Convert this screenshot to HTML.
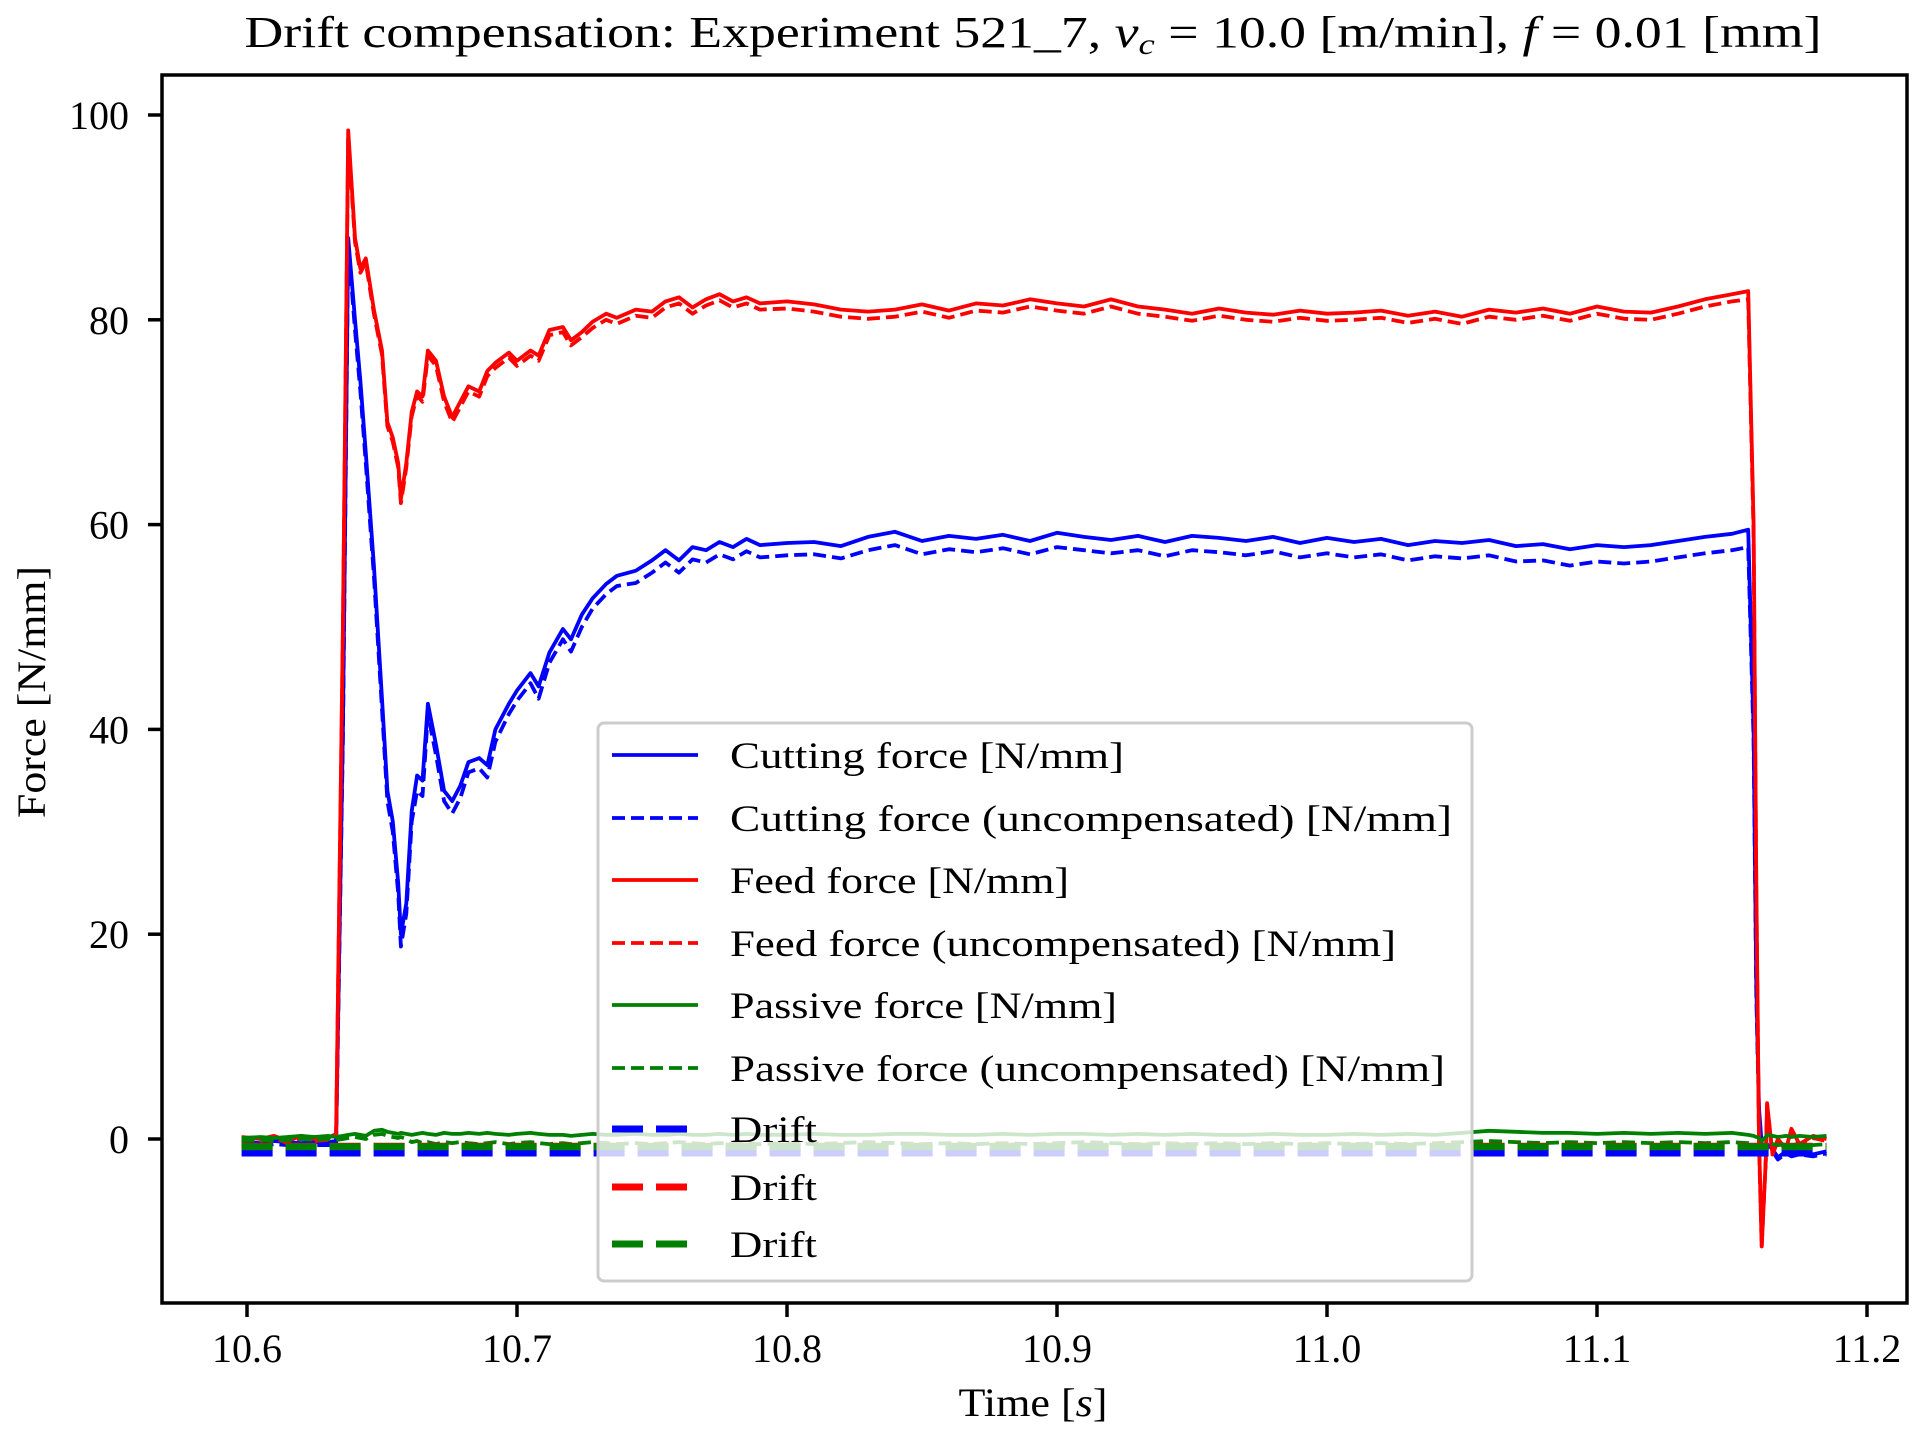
<!DOCTYPE html>
<html><head><meta charset="utf-8"><style>
html,body{margin:0;padding:0;background:#fff;}
svg{display:block;font-family:"Liberation Serif",serif;}
</style></head><body>
<svg id="chart" width="1920" height="1440" viewBox="0 0 1920 1440" xmlns="http://www.w3.org/2000/svg">
<rect width="1920" height="1440" fill="#fff"/>
<text x="1033" y="47" font-size="44" text-anchor="middle" textLength="1577" lengthAdjust="spacingAndGlyphs">Drift compensation: Experiment 521_7, <tspan font-style="italic">v</tspan><tspan font-style="italic" font-size="30" dy="7">c</tspan><tspan dy="-7"> = 10.0 [m/min], </tspan><tspan font-style="italic">f</tspan> = 0.01 [mm]</text>
<g id="plot"></g>
<g id="axes"></g>
<g id="legend"></g>
<text x="1033" y="1416" font-size="40" text-anchor="middle" textLength="149" lengthAdjust="spacingAndGlyphs">Time [<tspan font-style="italic">s</tspan>]</text>
<text x="0" y="0" font-size="40" text-anchor="middle" textLength="252" lengthAdjust="spacingAndGlyphs" transform="translate(45,692) rotate(-90)">Force [N/mm]</text>
</svg>
<script>
const times = [10.598,10.605,10.61,10.615,10.62,10.625,10.63,10.633,
10.6355,10.6375,10.640,10.642,10.644,10.647,10.650,10.652,10.654,10.656,10.657,10.659,10.661,10.663,10.665,10.667,10.670,10.673,10.676,10.679,10.682,10.686,10.689,10.692,10.697,10.700,10.705,10.708,10.712,10.717,10.720,10.724,10.728,10.733,10.737,10.744,10.750,10.755,10.760,10.765,10.770,10.775,10.780,10.785,10.790,
10.80,10.81,10.82,10.83,10.84,10.85,10.86,10.87,10.88,10.89,10.90,10.91,10.92,10.93,10.94,10.95,10.96,10.97,10.98,10.99,11.00,11.01,11.02,11.03,11.04,11.05,11.06,11.07,11.08,11.09,11.10,11.11,11.12,11.13,11.14,11.15,
11.156,11.158,11.159,11.160,11.161,11.1625,11.163,11.165,11.167,11.170,11.172,11.175,11.18,11.185];
const feedForce = [0.2,0,0.3,-0.2,0.3,0,0.1,0.5,
50,98.5,88,85,86,81,77,70,68.5,66,62.5,66,71,73,72.5,77,76,72.5,70.5,72,73.5,73,75,75.8,76.8,76,77,76.5,79,79.3,78,78.8,79.8,80.6,80.2,81,80.8,81.8,82.2,81.2,82,82.5,81.8,82.2,81.6,
81.8,81.5,81.0,80.8,81.0,81.5,80.9,81.6,81.4,82.0,81.6,81.3,82.0,81.3,81.0,80.6,81.1,80.7,80.5,80.9,80.6,80.7,80.9,80.4,80.8,80.3,81.0,80.7,81.1,80.6,81.3,80.8,80.7,81.3,82.0,82.5,
82.8,60,25,0,-10.5,-2,3.5,-1.5,0,-1,1,-0.5,0.3,0];
const feedForceRaw = [0,-0.2,0.1,-0.4,0.1,-0.2,-0.1,0.3,
49,98,87.6,84.6,85.6,80.6,76.6,69.6,68.1,65.6,62.1,65.6,70.6,72.6,72,76.5,75.5,72,70,71.5,73,72.5,74.5,75.3,76.3,75.5,76.5,76,78.5,78.8,77.5,78.3,79.2,80,79.6,80.4,80.2,81.2,81.6,80.6,81.4,81.9,81.2,81.6,81,
81.1,80.8,80.3,80.1,80.3,80.8,80.2,80.9,80.7,81.3,80.9,80.6,81.3,80.6,80.3,79.9,80.4,80.0,79.8,80.2,79.9,80.0,80.2,79.7,80.1,79.6,80.3,80.0,80.4,79.9,80.6,80.1,80.0,80.6,81.3,81.8,
82.0,59,24,-0.5,-10.5,-2,3.3,-1.5,-0.2,-1,0.8,-0.6,0.1,-0.2];
const cuttingForce = [-0.3,-0.4,-0.2,-0.3,-0.4,-0.3,-0.3,-0.2,
40,88,80,74,67,56,43,34,31,25,20,23,32,35.5,35,42.5,38.5,34,33,34.5,36.8,37.2,36.5,40,42.5,43.8,45.5,44.2,47.5,49.8,48.8,51.2,52.8,54.2,55,55.5,56.5,57.5,56.5,57.8,57.5,58.3,57.8,58.6,58.0,
58.2,58.3,57.9,58.8,59.3,58.4,58.9,58.6,59.0,58.4,59.2,58.8,58.5,58.9,58.3,58.9,58.7,58.4,58.8,58.2,58.7,58.3,58.6,58.0,58.4,58.2,58.5,57.9,58.1,57.6,58.0,57.8,58.0,58.4,58.8,59.1,
59.5,40,15,3,-0.5,-1.5,-0.5,-1,-1.8,-1.2,-1.5,-1.3,-1.5,-1.2];
const cuttingForceRaw = [-0.6,-0.7,-0.5,-0.6,-0.7,-0.6,-0.6,-0.5,
39,87.5,79,73,66,55,42,33,30,24,18.8,22,31,34,33.5,41.5,37.5,33,31.8,33.3,35.8,36.2,35.3,38.8,41.5,42.8,44.5,43,46.5,48.8,47.6,50,51.8,53.2,54,54.3,55.3,56.3,55.3,56.6,56.3,57.1,56.6,57.4,56.8,
57,57.1,56.7,57.5,58,57.1,57.6,57.3,57.7,57.1,57.8,57.5,57.2,57.5,56.9,57.5,57.3,57.0,57.4,56.8,57.2,56.8,57.1,56.5,56.9,56.7,57.0,56.4,56.5,56.0,56.4,56.2,56.4,56.8,57.2,57.5,
57.8,39,14,2.5,-0.8,-1.7,-0.8,-1.2,-2,-1.4,-1.7,-1.5,-1.7,-1.4];
const passiveForce = [0.1,0.2,0.1,0.2,0.3,0.2,0.3,0.2,
0.3,0.4,0.5,0.4,0.3,0.8,0.9,0.7,0.6,0.5,0.6,0.5,0.4,0.5,0.6,0.5,0.4,0.6,0.5,0.5,0.6,0.5,0.6,0.5,0.4,0.5,0.6,0.5,0.4,0.4,0.3,0.4,0.5,0.4,0.4,0.5,0.4,0.4,0.5,0.4,0.4,0.5,0.4,0.5,0.4,
0.4,0.5,0.4,0.4,0.5,0.5,0.4,0.4,0.5,0.4,0.5,0.5,0.4,0.5,0.4,0.5,0.4,0.4,0.5,0.4,0.4,0.5,0.4,0.5,0.4,0.6,0.8,0.7,0.6,0.6,0.5,0.6,0.5,0.6,0.5,0.6,
0.4,0.3,0.2,0.1,-0.2,0.2,0.4,0.3,0.2,0.3,0.2,0.3,0.2,0.3];
const passiveForceRaw = [-0.2,-0.1,-0.2,-0.1,0,-0.1,0,-0.1,
0,0.1,0.2,0.1,0,0.4,0.5,0.3,0.2,0.1,0.2,0,-0.3,-0.2,-0.4,-0.3,-0.5,-0.3,-0.4,-0.3,-0.4,-0.5,-0.4,-0.3,-0.5,-0.4,-0.3,-0.4,-0.5,-0.4,-0.5,-0.4,-0.3,-0.4,-0.5,-0.4,-0.5,-0.4,-0.3,-0.4,-0.5,-0.4,-0.5,-0.4,-0.5,
-0.4,-0.5,-0.4,-0.3,-0.4,-0.5,-0.4,-0.5,-0.4,-0.5,-0.4,-0.3,-0.4,-0.5,-0.4,-0.5,-0.4,-0.5,-0.4,-0.5,-0.4,-0.5,-0.4,-0.5,-0.4,-0.3,-0.2,-0.3,-0.4,-0.3,-0.4,-0.3,-0.4,-0.3,-0.4,-0.3,
-0.4,-0.5,-0.6,-0.7,-0.8,-0.5,-0.4,-0.5,-0.6,-0.5,-0.6,-0.5,-0.6,-0.5];
const driftTimes = [10.598,11.185];
const cuttingDrift = [-1.37,-1.37];
const feedDrift = [-0.7,-0.7];
const passiveDrift = [-0.75,-0.75];
const xTicks = [10.6,10.7,10.8,10.9,11.0,11.1,11.2];
const xTickLabels = ["10.6","10.7","10.8","10.9","11.0","11.1","11.2"];
const yTicks = [0,20,40,60,80,100];
const yTickLabels = ["0","20","40","60","80","100"];
const legendLabels = ["Cutting force [N/mm]","Cutting force (uncompensated) [N/mm]","Feed force [N/mm]","Feed force (uncompensated) [N/mm]","Passive force [N/mm]","Passive force (uncompensated) [N/mm]","Drift","Drift","Drift"];

const NS="http://www.w3.org/2000/svg";
const L=162,R=1907,T=75,B=1303;
function xs(t){return 247+(t-10.6)*2700;}
function ys(v){return 1139-v*10.24;}
function mk(tag,parent){const e=document.createElementNS(NS,tag);parent.appendChild(e);return e;}
const plot=document.getElementById('plot');
const clip=mk('clipPath',plot);clip.setAttribute('id','cp');
const cr=mk('rect',clip);cr.setAttribute('x',L);cr.setAttribute('y',T);cr.setAttribute('width',R-L);cr.setAttribute('height',B-T);
function series(tx,vals,color,dash,w,name){
  const p=mk('path',plot);
  
  
  let d='';for(let i=0;i<tx.length;i++){d+=(i?'L':'M')+xs(tx[i]).toFixed(1)+','+ys(vals[i]).toFixed(1);}
  p.setAttribute('d',d);p.setAttribute('fill','none');p.setAttribute('stroke',color);
  p.setAttribute('stroke-width',w);p.setAttribute('stroke-linejoin','round');
  if(dash)p.setAttribute('stroke-dasharray',dash);
  p.setAttribute('clip-path','url(#cp)');
}
series(times,cuttingForce,'#0000ff',null,3.8,'cutting-force-line');
series(times,cuttingForceRaw,'#0000ff','13,6',3.8,'cutting-force-uncompensated-line');
series(times,feedForce,'#ff0000',null,3.8,'feed-force-line');
series(times,feedForceRaw,'#ff0000','13,6',3.8,'feed-force-uncompensated-line');
series(times,passiveForce,'#008000',null,3.8,'passive-force-line');
series(times,passiveForceRaw,'#008000','13,6',3.8,'passive-force-uncompensated-line');
series(driftTimes,cuttingDrift,'#0000ff','31,13',7,'cutting-drift-line');
series(driftTimes,feedDrift,'#ff0000','31,13',7,'feed-drift-line');
series(driftTimes,passiveDrift,'#008000','31,13',7,'passive-drift-line');

const axes=document.getElementById('axes');
const frame=mk('rect',axes);


frame.setAttribute('x',L);frame.setAttribute('y',T);frame.setAttribute('width',R-L);frame.setAttribute('height',B-T);
frame.setAttribute('fill','none');frame.setAttribute('stroke','#000');frame.setAttribute('stroke-width',3.5);
xTicks.forEach((t,i)=>{
  const ln=mk('line',axes);
  
  
  ln.setAttribute('x1',xs(t));ln.setAttribute('x2',xs(t));ln.setAttribute('y1',B);ln.setAttribute('y2',B+14);
  ln.setAttribute('stroke','#000');ln.setAttribute('stroke-width',3.5);
  const tx=mk('text',axes);
  
  
  tx.setAttribute('x',xs(t));tx.setAttribute('y',1362);tx.setAttribute('font-size',40);tx.setAttribute('text-anchor','middle');
  tx.textContent=xTickLabels[i];
});
yTicks.forEach((v,i)=>{
  const ln=mk('line',axes);
  
  
  ln.setAttribute('x1',L-14);ln.setAttribute('x2',L);ln.setAttribute('y1',ys(v));ln.setAttribute('y2',ys(v));
  ln.setAttribute('stroke','#000');ln.setAttribute('stroke-width',3.5);
  const tx=mk('text',axes);
  
  
  tx.setAttribute('x',129);tx.setAttribute('y',ys(v)+14);tx.setAttribute('font-size',40);tx.setAttribute('text-anchor','end');
  tx.textContent=yTickLabels[i];
});

const lg=document.getElementById('legend');
const box=mk('rect',lg);


box.setAttribute('x',598);box.setAttribute('y',723);box.setAttribute('width',874);box.setAttribute('height',558);
box.setAttribute('rx',6);box.setAttribute('fill','#fff');box.setAttribute('fill-opacity',0.8);box.setAttribute('stroke','#cccccc');box.setAttribute('stroke-width',3);
const rowY=[755,818,880,943,1005,1068,1129,1187,1244];
const lgColors=['#0000ff','#0000ff','#ff0000','#ff0000','#008000','#008000','#0000ff','#ff0000','#008000'];
const lgDash=[null,'13,6',null,'13,6',null,'13,6','31,13','31,13','31,13'];
const lgW=[3.8,3.8,3.8,3.8,3.8,3.8,7,7,7];
const lgLen=[394,722,339,666,387,715,87,87,87];
legendLabels.forEach((lab,i)=>{
  const ln=mk('line',lg);
  
  
  ln.setAttribute('x1',612);ln.setAttribute('x2',698);ln.setAttribute('y1',rowY[i]);ln.setAttribute('y2',rowY[i]);
  ln.setAttribute('stroke',lgColors[i]);ln.setAttribute('stroke-width',lgW[i]);
  if(lgDash[i])ln.setAttribute('stroke-dasharray',lgDash[i]);
  const tx=mk('text',lg);
  
  
  tx.setAttribute('x',730);tx.setAttribute('y',rowY[i]+13);tx.setAttribute('font-size',37);
  tx.setAttribute('textLength',lgLen[i]);tx.setAttribute('lengthAdjust','spacingAndGlyphs');
  tx.textContent=lab;
});
</script>
</body></html>
